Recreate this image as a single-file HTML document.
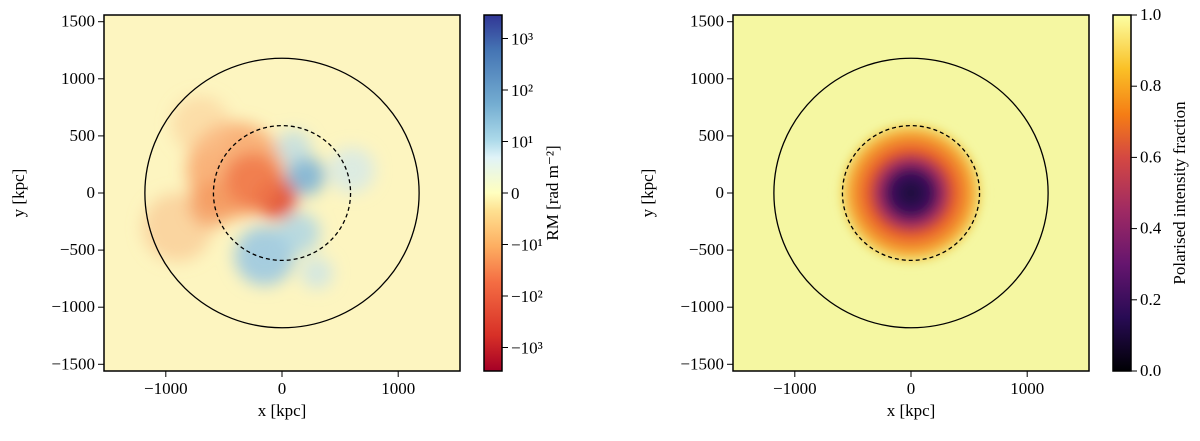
<!DOCTYPE html>
<html><head><meta charset="utf-8"><style>
body{margin:0;background:#fff;font-family:"Liberation Serif",serif}
svg text{font-family:"Liberation Serif",serif;font-size:17px;fill:#000}
</style></head><body>
<svg width="1200" height="436" xmlns="http://www.w3.org/2000/svg">
<defs>
<filter id="bl" x="-50%" y="-50%" width="200%" height="200%"><feGaussianBlur stdDeviation="8"/></filter>
<filter id="bl2" x="-50%" y="-50%" width="200%" height="200%"><feGaussianBlur stdDeviation="4"/></filter>
<clipPath id="c1"><rect x="104" y="15" width="356" height="356"/></clipPath>
<clipPath id="c2"><rect x="733" y="15" width="356" height="356"/></clipPath>
<linearGradient id="rdylbu" x1="0" y1="1" x2="0" y2="0">
<stop offset="0" stop-color="#a50026"/><stop offset="0.1" stop-color="#d73027"/><stop offset="0.25" stop-color="#f46d43"/><stop offset="0.35" stop-color="#fdae61"/><stop offset="0.45" stop-color="#fee090"/><stop offset="0.5" stop-color="#ffffbf"/><stop offset="0.6" stop-color="#e0f3f8"/><stop offset="0.65" stop-color="#abd9e9"/><stop offset="0.75" stop-color="#74add1"/><stop offset="0.9" stop-color="#4575b4"/><stop offset="1" stop-color="#313695"/></linearGradient>
<linearGradient id="inferno" x1="0" y1="1" x2="0" y2="0">
<stop offset="0" stop-color="#000004"/><stop offset="0.15" stop-color="#280b54"/><stop offset="0.3" stop-color="#65156e"/><stop offset="0.45" stop-color="#9f2a63"/><stop offset="0.6" stop-color="#d44842"/><stop offset="0.72" stop-color="#f57d15"/><stop offset="0.85" stop-color="#fac127"/><stop offset="1" stop-color="#fcffa4"/></linearGradient>
<radialGradient id="pif" cx="0.5" cy="0.5" r="0.5">
<stop offset="0" stop-color="#1a0a3a"/><stop offset="0.25" stop-color="#3a0e5a"/><stop offset="0.42" stop-color="#a02c5e"/><stop offset="0.58" stop-color="#e8602a"/><stop offset="0.78" stop-color="#f5a030"/><stop offset="0.92" stop-color="#f2e070"/><stop offset="1" stop-color="#f2f5a0" stop-opacity="0"/></radialGradient>
</defs>
<g id="left"></g>
<g id="right"></g>
</svg>
<script>
const NS="http://www.w3.org/2000/svg";
const xTicks=[-1000,0,1000], yTicks=[-1500,-1000,-500,0,500,1000,1500];
const circleRadii=[1180,590];
const rmBlobX=[-400,-900,-150,200,-50,600,-700,150,-250,300,-600,100];
const rmBlobY=[200,-300,-550,150,-50,200,600,-350,100,-700,-100,400];
const rmBlobR=[420,300,260,170,180,200,250,180,250,140,200,150];
const rmBlobC=["#f7a168","#f9c08a","#9cc9e2","#7db3d6","#e0472e","#cfe7ef","#fbc891","#a9d3e6","#f0784a","#c3e1ec","#f4955c","#b5d9e8"];
const rmBlobO=[0.8,0.6,0.9,0.9,0.9,0.7,0.5,0.8,0.85,0.7,0.7,0.7];
const rmCbTicks=["10\u00b3","10\u00b2","10\u00b9","0","\u221210\u00b9","\u221210\u00b2","\u221210\u00b3"];
const rmCbPos=[3,2,1,0,-1,-2,-3];
const piCbTicks=[0,0.2,0.4,0.6,0.8,1.0];
function el(t,a,p){const e=document.createElementNS(NS,t);for(const k in a)e.setAttribute(k,a[k]);p.appendChild(e);return e;}
function panel(g,ox,isRM){
  const L=104+ox,T=15,W=356,H=356;
  const px=x=>L+W/2+x*0.1162, py=y=>T+H/2-y*0.1142;
  const bg=el('rect',{x:L,y:T,width:W,height:H,fill:isRM?'#fdf5c0':'#f5f7a2'},g);
  
  const im=el('g',{'clip-path':isRM?'url(#c1)':'url(#c2)'},g);
  if(isRM){
    const b=el('g',{filter:'url(#bl)'},im);
    for(let i=0;i<rmBlobX.length;i++){
      const c=el('ellipse',{cx:px(rmBlobX[i]),cy:py(rmBlobY[i]),rx:rmBlobR[i]*0.1162,ry:rmBlobR[i]*0.1142,fill:rmBlobC[i],opacity:rmBlobO[i]},b);
      
    }
  } else {
    const c=el('ellipse',{cx:px(0),cy:py(0),rx:650*0.1162,ry:650*0.1142,fill:'url(#pif)',filter:'url(#bl2)'},im);
    
  }
  circleRadii.forEach((r,i)=>{const c=el('ellipse',{cx:px(0),cy:py(0),rx:r*0.1162,ry:r*0.1142,fill:'none',stroke:'#000','stroke-width':1.3,'stroke-dasharray':i?'4,3':'none'},g);
    });
  const fr=el('rect',{x:L,y:T,width:W,height:H,fill:'none',stroke:'#000','stroke-width':1.5},g);
  
  xTicks.forEach(v=>{el('line',{x1:px(v),x2:px(v),y1:T+H,y2:T+H+6,stroke:'#000'},g);
    const t=el('text',{x:px(v),y:T+H+23,'text-anchor':'middle'},g);t.textContent=v<0?'\u2212'+(-v):v;
    });
  yTicks.forEach(v=>{el('line',{x1:L-6,x2:L,y1:py(v),y2:py(v),stroke:'#000'},g);
    const t=el('text',{x:L-9,y:py(v)+5,'text-anchor':'end'},g);t.textContent=v<0?'\u2212'+(-v):v;
    });
  const xl=el('text',{x:L+W/2,y:416,'text-anchor':'middle','font-size':20},g);xl.textContent='x [kpc]';
  
  const yl=el('text',{x:L-80,y:T+H/2,'text-anchor':'middle','font-size':20,transform:`rotate(-90 ${L-80} ${T+H/2})`},g);yl.textContent='y [kpc]';
  
  const cx=L+380,cw=18;
  const cb=el('rect',{x:cx,y:T,width:cw,height:H,fill:isRM?'url(#rdylbu)':'url(#inferno)',stroke:'#000','stroke-width':1.5},g);
  
  if(isRM){
    const cy=v=>T+H/2-v*51.5;
    rmCbPos.forEach((v,i)=>{el('line',{x1:cx+cw,x2:cx+cw+6,y1:cy(v),y2:cy(v),stroke:'#000'},g);
      const t=el('text',{x:cx+cw+9,y:cy(v)+6},g);t.textContent=rmCbTicks[i];
      });
  } else {
    const cy=v=>T+H-v*H;
    piCbTicks.forEach(v=>{el('line',{x1:cx+cw,x2:cx+cw+6,y1:cy(v),y2:cy(v),stroke:'#000'},g);
      const t=el('text',{x:cx+cw+9,y:cy(v)+5},g);t.textContent=v.toFixed(1);
      });
  }
  const lx=isRM?cx+cw+56:cx+cw+54;
  const ct=el('text',{x:lx,y:T+H/2,'text-anchor':'middle','font-size':19,transform:`rotate(-90 ${lx} ${T+H/2})`},g);
  ct.textContent=isRM?'RM [rad m\u207b\u00b2]':'Polarised intensity fraction';
  
}
panel(document.getElementById('left'),0,true);
panel(document.getElementById('right'),629,false);
</script>
</body></html>
